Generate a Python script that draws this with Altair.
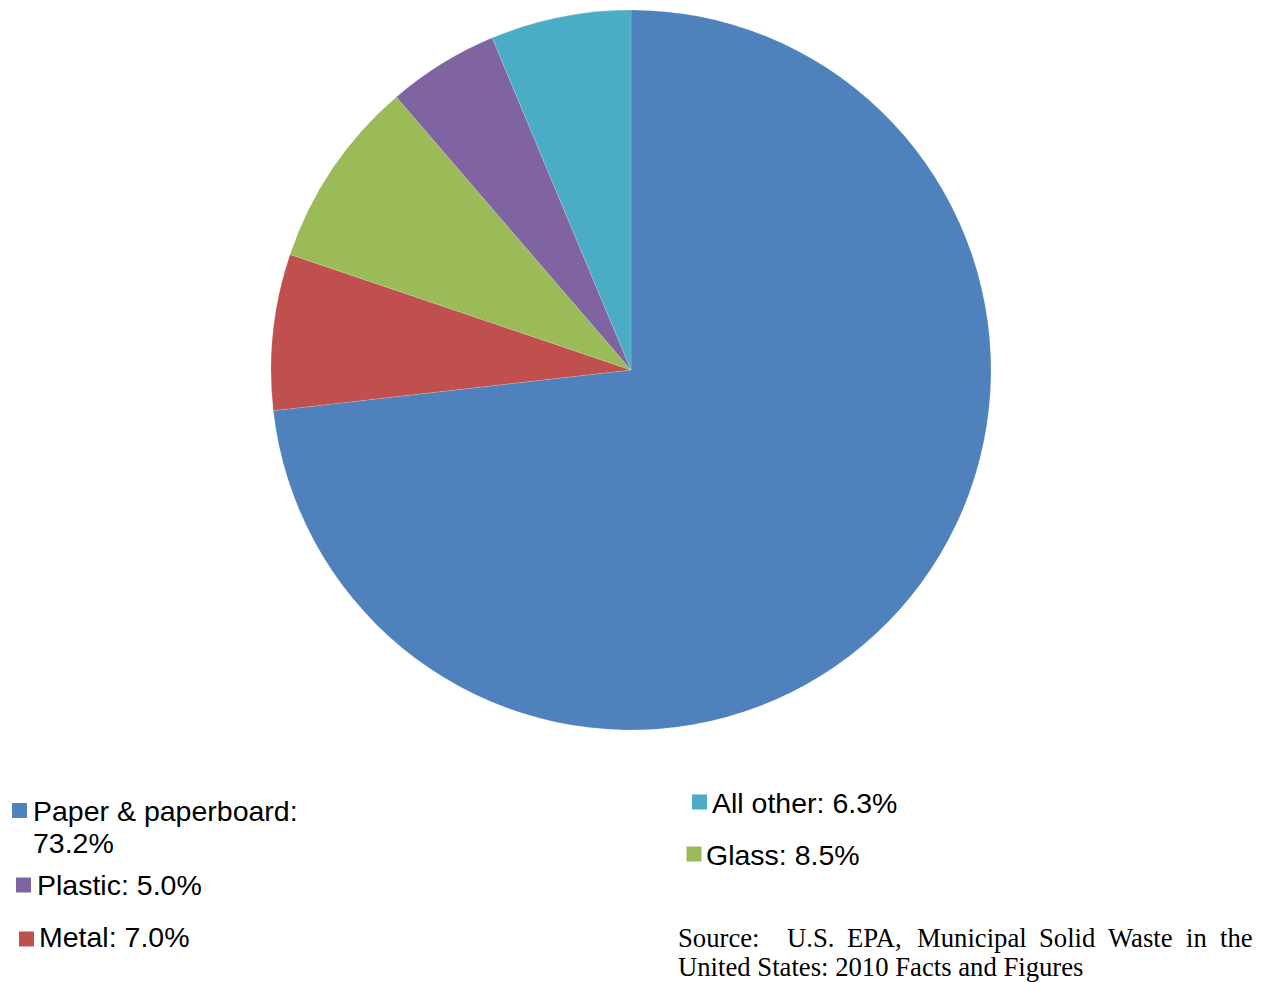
import altair as alt
import pandas as pd

# Data
categories = ["Paper & paperboard", "Metal", "Glass", "Plastic", "All other"]
values = [73.2, 7.0, 8.5, 5.0, 6.3]
colors = ["#4F81BD", "#C0504D", "#9BBB59", "#8064A2", "#4BACC6"]
legend_labels = ["Paper & paperboard:\n73.2%", "Metal: 7.0%", "Glass: 8.5%", "Plastic: 5.0%", "All other: 6.3%"]

source_line1 = ["Source:", "U.S.", "EPA,", "Municipal", "Solid", "Waste", "in", "the"]
source_line2 = "United States: 2010 Facts and Figures"

# Layout (pixel positions in chart coordinates; page margin 8px)
W, H = 1252, 974
cx, cy, R = 623, 362, 360
sq_x = [11.5, 18.5, 686, 15.5, 691.5]
sq_y = [802.5, 931, 846, 877, 794]
tx_x = [25, 31, 698, 29, 704]
tx_y = [813, 939, 857, 887, 805]
src_x = [670, 779, 839, 909, 1031, 1100, 1178, 1212]
src_y1 = 939
src_y2 = 968

pie_df = pd.DataFrame({"category": categories, "value": values,
                       "order": list(range(len(categories)))})
color_scale = alt.Scale(domain=categories, range=colors)

pie = alt.Chart(pie_df).mark_arc(stroke="white", strokeWidth=0.15).encode(
    theta=alt.Theta("value:Q", stack=True),
    order=alt.Order("order:Q"),
    color=alt.Color("category:N", scale=color_scale, legend=None),
    x=alt.value(cx),
    y=alt.value(cy),
    radius=alt.value(R),
)

leg_df = pd.DataFrame({"category": categories, "label": legend_labels,
                       "sx": sq_x, "sy": sq_y, "tx": tx_x, "ty": tx_y})

squares = alt.Chart(leg_df).mark_square(size=225, opacity=1, filled=True).encode(
    x=alt.X("sx:Q", scale=None, axis=None),
    y=alt.Y("sy:Q", scale=None, axis=None),
    color=alt.Color("category:N", scale=color_scale, legend=None),
)

texts = alt.Chart(leg_df).mark_text(
    align="left", baseline="alphabetic", font="Liberation Sans", fontSize=28.5,
    color="black", lineBreak="\n", lineHeight=32,
).encode(
    x=alt.X("tx:Q", scale=None, axis=None),
    y=alt.Y("ty:Q", scale=None, axis=None),
    text="label:N",
)

src_df = pd.DataFrame({"word": source_line1, "x": src_x})
src1 = alt.Chart(src_df).mark_text(
    align="left", baseline="alphabetic", font="Liberation Serif", fontSize=26.7, color="black"
).encode(
    x=alt.X("x:Q", scale=None, axis=None),
    y=alt.value(src_y1),
    text="word:N",
)

src2_df = pd.DataFrame({"line": [source_line2]})
src2 = alt.Chart(src2_df).mark_text(
    align="left", baseline="alphabetic", font="Liberation Serif", fontSize=26.7, color="black"
).encode(
    x=alt.value(670),
    y=alt.value(src_y2),
    text="line:N",
)

chart = alt.layer(pie, squares, texts, src1, src2).properties(
    width=W, height=H, padding=0, autosize=alt.AutoSizeParams(type="none")
).configure_view(stroke=None).resolve_scale(x="independent", y="independent")

chart.save("out.html", embed_options={"renderer": "svg", "actions": False})
